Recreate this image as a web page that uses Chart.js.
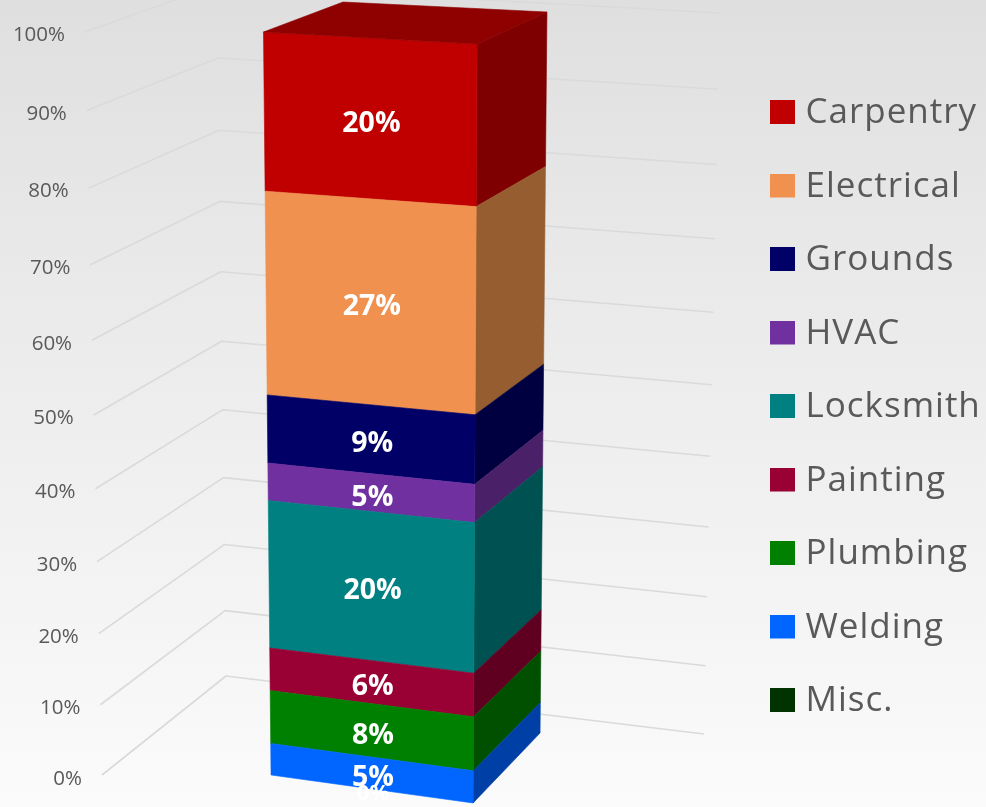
<!DOCTYPE html>
<html><head><meta charset="utf-8">
<style>html,body{margin:0;padding:0;background:#eee;overflow:hidden}canvas{display:block}</style>
<script src="https://cdn.jsdelivr.net/npm/chart.js@4/dist/chart.umd.js"></script>
</head><body>
<div style="width:986px;height:807px"><canvas id="c" width="986" height="807"></canvas></div>
<script>
// Data (bottom of the stack first)
const categories = ['Work orders'];
const trades  = ['Misc.','Welding','Plumbing','Painting','Locksmith','HVAC','Grounds','Electrical','Carpentry'];
const shares  = [0, 4.5, 7.5, 6.0, 20.4, 5.1, 9.2, 26.9, 20.4];
const colours = ['#003300','#0066FF','#008000','#990033','#008080','#7030A0','#000066','#F09150','#C00000'];
const sideColours = ['#002000','#0040A6','#005000','#600020','#005252','#4A2068','#000040','#965E30','#7F0000'];
const TOP_COLOUR = '#8F0000';
const yTicksStep = 10;

// Perspective: a value's fraction of the axis maps to a fraction of the receding edge
const recede = u => u / (1.064 - 0.064 * u);

class PerspectiveLinear extends Chart.LinearScale {
  static id = 'perspectiveLinear';
  static defaults = Chart.LinearScale.defaults;
  getPixelForDecimal(d) { return this.bottom - recede(d) * (this.bottom - this.top); }
  _computeLabelArea() { return undefined; }
  _computeLabelItems(area) {
    const items = super._computeLabelItems(area);
    items.forEach(it => {
      const t = (this.bottom - it.options.translation[1]) / (this.bottom - this.top);
      it.options.translation = [it.options.translation[0] + 14 - 17 * t, it.options.translation[1] + 2];
    });
    return items;
  }
}
Chart.register(PerspectiveLinear);

// box corners as offsets from the bar: x in bar widths, y in px from the axis ends
const FRONT_L = {b:[-0.476,-2], t:[-0.512,-1]};
const FRONT_R = {b:[ 0.486,26], t:[ 0.505,11]};
const BACK_R  = {b:[ 0.805,-44], t:[ 0.838,-21]};
const BACK_L  = {b:[-0.133,-62], t:[-0.133,-31]};
const WALL_START  = {b:[102,775], t:[85,32]};
const WALL_CORNER = {b:[226,676], t:[217,-15]};
const WALL_END    = {b:[704,734], t:[720,13]};

function frac(scale, px) { return (scale.bottom - px) / (scale.bottom - scale.top); }
function pt(corner, el, scale, t) {
  const bx = el.x + corner.b[0] * el.width, tx = el.x + corner.t[0] * el.width;
  const by = scale.bottom + corner.b[1], ty = scale.top + corner.t[1];
  return [bx + (tx - bx) * t, by + (ty - by) * t];
}
function poly(ctx, pts, fill) {
  ctx.beginPath();
  pts.forEach((p, i) => i ? ctx.lineTo(p[0], p[1]) : ctx.moveTo(p[0], p[1]));
  ctx.closePath();
  ctx.fillStyle = fill; ctx.strokeStyle = fill; ctx.lineWidth = 0.6;
  ctx.fill(); ctx.stroke();
}
const lerp = (w, t) => [w.b[0] + (w.t[0] - w.b[0]) * t, w.b[1] + (w.t[1] - w.b[1]) * t];

const box3d = {
  id: 'box3d',
  beforeDraw(chart) {
    const { ctx, width, height } = chart;
    const g = ctx.createLinearGradient(0, 0, 0, height);
    g.addColorStop(0, '#DFDFDF');
    g.addColorStop(0.33, '#E9E9E9');
    g.addColorStop(0.75, '#F4F4F4');
    g.addColorStop(1, '#FBFBFB');
    ctx.save(); ctx.fillStyle = g; ctx.fillRect(0, 0, width, height); ctx.restore();
  },
  beforeDatasetsDraw(chart) {
    const { ctx, scales: { y } } = chart;
    ctx.save();
    ctx.strokeStyle = '#DADADA'; ctx.lineWidth = 1.6; ctx.lineJoin = 'round';
    y.ticks.forEach(tick => {
      const t = frac(y, y.getPixelForValue(tick.value));
      const a = lerp(WALL_START, t), b = lerp(WALL_CORNER, t), c = lerp(WALL_END, t);
      ctx.beginPath(); ctx.moveTo(a[0], a[1]); ctx.lineTo(b[0], b[1]); ctx.lineTo(c[0], c[1]); ctx.stroke();
    });
    ctx.restore();
  },
  beforeDatasetDraw(chart, args) {
    const { ctx, scales: { y } } = chart;
    const el = args.meta.data[0];
    const t0 = frac(y, el.base), t1 = frac(y, el.y);
    if (t1 > t0) {
      ctx.save();
      poly(ctx, [pt(FRONT_R, el, y, t0), pt(BACK_R, el, y, t0), pt(BACK_R, el, y, t1), pt(FRONT_R, el, y, t1)], sideColours[args.index]);
      poly(ctx, [pt(FRONT_L, el, y, t0), pt(FRONT_R, el, y, t0), pt(FRONT_R, el, y, t1), pt(FRONT_L, el, y, t1)], colours[args.index]);
      if (args.index === trades.length - 1) {
        poly(ctx, [pt(FRONT_L, el, y, t1), pt(FRONT_R, el, y, t1), pt(BACK_R, el, y, t1), pt(BACK_L, el, y, t1)], TOP_COLOUR);
      }
      ctx.restore();
    }
    return false;
  },
  afterDatasetsDraw(chart) {
    const { ctx, scales: { y } } = chart;
    ctx.save();
    ctx.fillStyle = '#FFFFFF'; ctx.textAlign = 'center'; ctx.textBaseline = 'middle';
    trades.forEach((name, i) => {
      const el = chart.getDatasetMeta(i).data[0];
      const t0 = frac(y, el.base), t1 = frac(y, el.y);
      const ps = [pt(FRONT_L, el, y, t0), pt(FRONT_R, el, y, t0), pt(FRONT_R, el, y, t1), pt(FRONT_L, el, y, t1)];
      const cx = ps.reduce((s, p) => s + p[0], 0) / 4, cy = ps.reduce((s, p) => s + p[1], 0) / 4;
      ctx.font = 'bold ' + (shares[i] < 1 ? 22 : 28.5) + 'px "Open Sans"';
      ctx.fillText(Math.round(shares[i]) + '%', cx + 1, cy + 5);
    });
    ctx.restore();
  },
  afterLayout(chart) {
    const lg = chart.legend;
    const pad = lg.options.labels.padding;
    lg.left = 777 - pad;
    lg.right = 986;
    lg.top = 96 - pad;
    lg.bottom = 807;
    if (!lg._spaced) {
      const base = lg.draw;
      lg.draw = function (a) {
        chart.ctx.save(); chart.ctx.letterSpacing = '1px';
        base.call(this, a);
        chart.ctx.restore();
      };
      lg._spaced = true;
    }
  }
};

function swatch(colour) {
  const c = document.createElement('canvas');
  c.width = 25; c.height = 27;
  const x = c.getContext('2d'); x.fillStyle = colour; x.fillRect(0, 0, 25, 24);
  return c;
}

new Chart(document.getElementById('c'), {
  type: 'bar',
  data: {
    labels: categories,
    datasets: trades.map((name, i) => ({ label: name, data: [shares[i]], backgroundColor: colours[i], barThickness: 210 }))
  },
  plugins: [box3d],
  options: {
    responsive: false, animation: false,
    layout: { padding: { left: 0, right: 311, top: 33, bottom: 30 } },
    scales: {
      x: { stacked: true, display: false },
      y: {
        type: 'perspectiveLinear', stacked: true, min: 0, max: 100,
        afterFit: s => { s.width = 68; },
        border: { display: false },
        grid: { display: false, drawTicks: false },
        ticks: { stepSize: yTicksStep, padding: 0, color: '#595959', font: { family: '"Open Sans"', size: 20.5 }, callback: v => v + '%' }
      }
    },
    plugins: {
      tooltip: { enabled: false },
      legend: {
        position: 'right', align: 'start', reverse: true, maxWidth: 1,
        labels: {
          usePointStyle: true, pointStyleWidth: 11, boxHeight: 24, padding: 38.5,
          color: '#595959', font: { family: '"Open Sans"', size: 35 },
          generateLabels(chart) {
            return Chart.defaults.plugins.legend.labels.generateLabels(chart)
              .map(it => ({ ...it, pointStyle: swatch(colours[it.datasetIndex]) }));
          }
        }
      }
    }
  }
});
</script>
</body></html>
